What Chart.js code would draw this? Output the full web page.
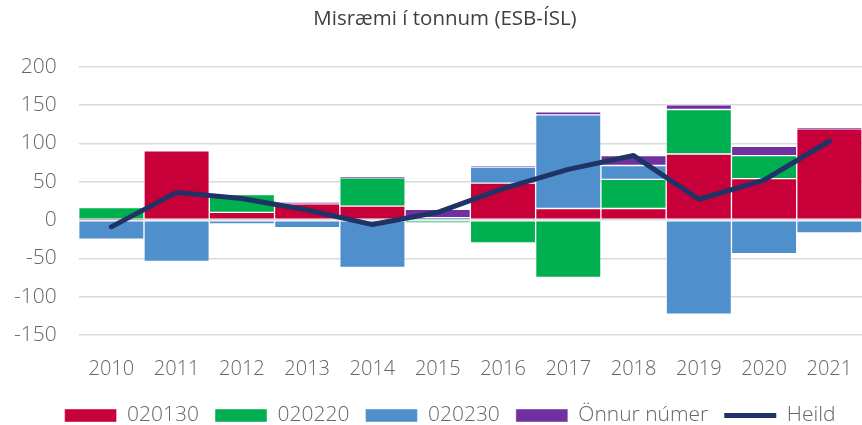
<!DOCTYPE html>
<html>
<head>
<meta charset="utf-8">
<script src="https://cdn.jsdelivr.net/npm/chart.js@4"></script>
<style>
  body { margin: 0; background: #fff; }
</style>
</head>
<body>
<canvas id="misraemi" width="862" height="425"></canvas>
<script>
var years = ['2010', '2011', '2012', '2013', '2014', '2015', '2016', '2017', '2018', '2019', '2020', '2021'];
var s020130 = [1, 90, 10, 21, 18, 0, 48, 15, 15, 86, 54, 119];
var s020220 = [15, 0, 23, 0, 37, -4, -30, -75, 38, 58, 30, 0];
var s020230 = [-25, -54, -5, -10, -62, 3, 21, 122, 18, -123, -44, -17];
var onnur = [0, 0, 0, 2, 1, 11, 2, 4, 13, 6, 12, 1];
var heild = [-9, 36, 28, 13, -6, 10, 41, 66, 84, 27, 52, 103];

var font = "'Open Sans', sans-serif";

function barSet(label, data, color) {
    return {
        type: 'bar',
        label: label,
        data: data,
        backgroundColor: color,
        borderColor: 'rgba(255,255,255,0.45)',
        borderWidth: 1,
        borderSkipped: false,
        pointStyle: 'rect',
        order: 1
    };
}

// title and legend sit a bit right of the canvas centre in the original
var shiftBoxes = {
    id: 'shiftBoxes',
    afterLayout: function (chart) {
        if (chart.titleBlock) chart.titleBlock.left += 36;
        if (chart.legend) chart.legend.left += 46;
    }
};

var ctx = document.getElementById('misraemi');
var chart = new Chart(ctx, {
    type: 'bar',
    data: {
        labels: years,
        datasets: [
            barSet('020130', s020130, 'rgb(200, 0, 58)'),
            barSet('020220', s020220, 'rgb(0, 176, 80)'),
            barSet('020230', s020230, 'rgb(79, 143, 204)'),
            barSet('Önnur númer', onnur, 'rgb(112, 48, 160)'),
            {
                type: 'line',
                label: 'Heild',
                data: heild,
                borderColor: 'rgb(31, 51, 102)',
                backgroundColor: 'rgb(31, 51, 102)',
                borderWidth: 5,
                borderCapStyle: 'round',
                borderJoinStyle: 'round',
                pointRadius: 0,
                pointStyle: 'line',
                tension: 0,
                order: 0
            }
        ]
    },
    plugins: [shiftBoxes],
    options: {
        responsive: false,
        animation: false,
        layout: {
            padding: { left: -8, right: 0, top: 0, bottom: -11 }
        },
        datasets: {
            bar: {
                barPercentage: 1,
                categoryPercentage: 1
            }
        },
        scales: {
            x: {
                stacked: true,
                grid: { display: false },
                border: { display: false },
                ticks: {
                    color: '#666',
                    font: { family: font, size: 20, weight: 300 },
                    padding: 14,
                    maxRotation: 0
                },
                // let the last bar run to the right edge
                afterFit: function (scale) {
                    scale.paddingRight = 0;
                    scale.height -= 6;
                }
            },
            y: {
                stacked: true,
                min: -150,
                max: 200,
                grid: {
                    color: '#d9d9d9',
                    lineWidth: 1.5,
                    drawTicks: false
                },
                border: { display: false },
                ticks: {
                    stepSize: 50,
                    color: '#666',
                    font: { family: font, size: 21, weight: 300 },
                    padding: 22
                }
            }
        },
        plugins: {
            title: {
                display: true,
                text: 'Misræmi í tonnum (ESB-ÍSL)',
                color: '#404040',
                font: { family: font, size: 20.5, weight: 'normal' },
                padding: { top: 7, bottom: 35 }
            },
            legend: {
                position: 'bottom',
                labels: {
                    usePointStyle: true,
                    pointStyleWidth: 52,
                    boxHeight: 13,
                    padding: 16,
                    color: '#666',
                    font: { family: font, size: 21, weight: 300 },
                    sort: function (a, b) { return a.datasetIndex - b.datasetIndex; }
                }
            },
            tooltip: { enabled: false }
        }
    }
});
</script>
</body>
</html>
